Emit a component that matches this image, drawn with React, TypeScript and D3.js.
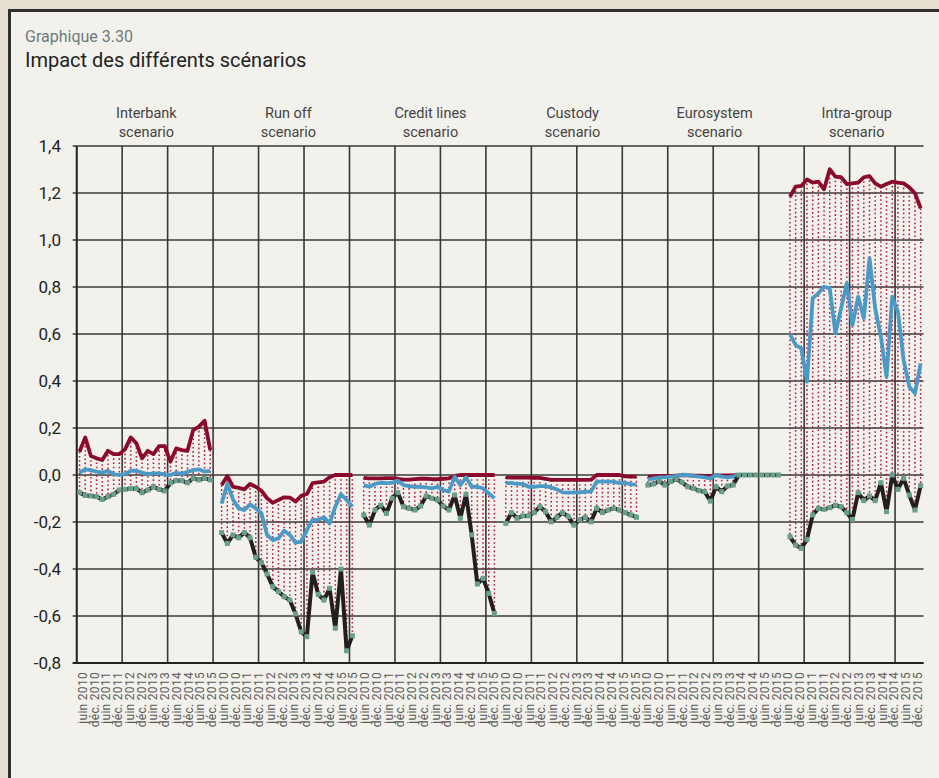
import React, { useEffect } from "react";
import * as d3 from "d3";

// scénarios (un panneau chacun)
const scenarios = ["Interbank", "Run off", "Credit lines", "Custody", "Eurosystem", "Intra-group"];
const periodLabels = [
  "juin 2010", "déc. 2010", "juin 2011", "déc. 2011", "juin 2012", "déc. 2012",
  "juin 2013", "déc. 2013", "juin 2014", "déc. 2014", "juin 2015", "déc. 2015",
];

// série haute (rouge)
const upperSeries: number[][] = [
  [0.099, 0.16, 0.081, 0.071, 0.064, 0.103, 0.089, 0.089, 0.109, 0.16, 0.135, 0.071, 0.103, 0.089, 0.123, 0.123, 0.057, 0.113, 0.106, 0.103, 0.191, 0.206, 0.231, 0.106],
  [-0.043, -0.004, -0.05, -0.055, -0.061, -0.038, -0.05, -0.067, -0.099, -0.118, -0.106, -0.095, -0.096, -0.113, -0.089, -0.081, -0.035, -0.031, -0.028, -0.01, 0, 0, 0, 0],
  [-0.012, -0.014, -0.014, -0.014, -0.013, -0.013, -0.016, -0.02, -0.02, -0.018, -0.016, -0.016, -0.018, -0.018, -0.016, -0.014, -0.004, 0, 0, 0, 0, 0, 0, 0],
  [-0.01, -0.011, -0.011, -0.011, -0.011, -0.012, -0.012, -0.016, -0.021, -0.021, -0.021, -0.021, -0.021, -0.021, -0.021, -0.02, 0, 0, 0, 0, 0, -0.006, -0.007, -0.007],
  [-0.008, -0.006, -0.004, -0.004, -0.004, -0.003, -0.002, -0.002, -0.003, -0.003, -0.004, -0.004, -0.002, -0.002, -0.002, -0.002, 0, 0, 0, 0, 0, 0, 0, 0],
  [1.184, 1.227, 1.23, 1.258, 1.244, 1.248, 1.216, 1.301, 1.27, 1.267, 1.238, 1.241, 1.244, 1.267, 1.272, 1.241, 1.227, 1.238, 1.248, 1.244, 1.241, 1.224, 1.199, 1.135],
];

// série médiane (bleu)
const middleSeries: number[][] = [
  [0.01, 0.024, 0.021, 0.014, 0.01, 0.018, 0.004, 0, 0.004, 0.018, 0.018, 0.01, 0.004, 0.007, 0.007, 0.003, 0, 0.01, 0.004, 0.014, 0.021, 0.024, 0.014, 0.018],
  [-0.121, -0.038, -0.104, -0.142, -0.149, -0.125, -0.142, -0.163, -0.255, -0.277, -0.27, -0.237, -0.255, -0.288, -0.284, -0.234, -0.191, -0.191, -0.18, -0.206, -0.135, -0.082, -0.106, -0.135],
  [-0.043, -0.05, -0.038, -0.033, -0.035, -0.033, -0.024, -0.043, -0.047, -0.05, -0.05, -0.053, -0.057, -0.05, -0.064, -0.071, -0.007, -0.043, -0.01, -0.05, -0.05, -0.057, -0.078, -0.099],
  [-0.033, -0.035, -0.038, -0.038, -0.05, -0.05, -0.047, -0.047, -0.053, -0.061, -0.074, -0.075, -0.074, -0.074, -0.071, -0.071, -0.028, -0.028, -0.028, -0.028, -0.035, -0.033, -0.04, -0.04],
  [-0.021, -0.014, -0.01, -0.01, -0.007, -0.004, 0.001, 0, -0.004, -0.007, -0.01, -0.014, 0.001, -0.007, -0.01, -0.007, 0, 0, 0, 0, 0, 0, 0, 0],
  [0.6, 0.553, 0.539, 0.397, 0.752, 0.773, 0.801, 0.794, 0.603, 0.709, 0.816, 0.638, 0.759, 0.667, 0.922, 0.709, 0.589, 0.418, 0.759, 0.695, 0.489, 0.376, 0.348, 0.475],
];

// série basse (noir, marqueurs verts)
const lowerSeries: number[][] = [
  [-0.075, -0.087, -0.089, -0.092, -0.104, -0.092, -0.082, -0.064, -0.061, -0.058, -0.058, -0.075, -0.064, -0.05, -0.061, -0.068, -0.033, -0.024, -0.024, -0.033, -0.014, -0.021, -0.014, -0.021],
  [-0.245, -0.291, -0.255, -0.267, -0.245, -0.267, -0.35, -0.373, -0.421, -0.475, -0.496, -0.518, -0.532, -0.591, -0.667, -0.688, -0.414, -0.508, -0.532, -0.482, -0.652, -0.4, -0.748, -0.684],
  [-0.17, -0.213, -0.149, -0.128, -0.163, -0.099, -0.075, -0.135, -0.142, -0.149, -0.132, -0.089, -0.099, -0.106, -0.132, -0.149, -0.085, -0.184, -0.082, -0.255, -0.464, -0.44, -0.504, -0.589],
  [-0.206, -0.16, -0.184, -0.174, -0.174, -0.16, -0.135, -0.156, -0.199, -0.18, -0.16, -0.177, -0.213, -0.191, -0.18, -0.199, -0.142, -0.16, -0.149, -0.142, -0.149, -0.16, -0.17, -0.18],
  [-0.043, -0.038, -0.026, -0.043, -0.028, -0.018, -0.031, -0.05, -0.057, -0.067, -0.071, -0.111, -0.05, -0.071, -0.047, -0.043, 0, 0, 0, 0, 0, 0, 0, 0],
  [-0.262, -0.298, -0.312, -0.274, -0.17, -0.142, -0.146, -0.139, -0.128, -0.135, -0.16, -0.189, -0.075, -0.109, -0.089, -0.109, -0.033, -0.156, 0, -0.061, -0.014, -0.085, -0.149, -0.045],
];

const W = 939;
const H = 778;
const margin = { top: 146, right: 15.5, bottom: 115, left: 76.7 };
const slotsPerPanel = 25; // 24 points + 1 case vide
const totalSlots = slotsPerPanel * scenarios.length - 1;
const gridEvery = 8;

const RED = "#8b0a2c";
const BLUE = "#4b9ac6";
const BLACK = "#231f20";
const GREEN = "#6b9f8d";
const GRID = "#383838";
const FONT = "Roboto, 'DejaVu Sans', sans-serif";

const fmt = (v: number) => v.toFixed(1).replace(".", ",");

export default function App() {
  useEffect(() => {
    document.body.style.margin = "0";
  }, []);

  const x0 = margin.left;
  const x1 = W - margin.right;
  const yTop = margin.top;
  const yBot = H - margin.bottom;

  const x = d3.scaleLinear().domain([0, totalSlots]).range([x0, x1]);
  const y = d3.scaleLinear().domain([-0.8, 1.4]).range([yBot, yTop]);
  const labelKeys = scenarios.flatMap((s) => periodLabels.map((p) => s + "|" + p));
  const xl = d3.scaleBand<string>().domain(labelKeys).range([x0, x1]);

  const px = (p: number, k: number) => x(p * slotsPerPanel + k + 0.5);

  const yTicks = y.ticks(11);
  const gridX = d3.range(0, totalSlots, gridEvery);

  return (
    <svg width={W} height={H} style={{ display: "block", fontFamily: FONT }}>
      <rect x={0} y={0} width={W} height={H} fill="#e6dfd0" />
      <rect x={9.5} y={10.5} width={W + 20} height={H + 20} fill="#f2f1eb" stroke="#2e2e2e" strokeWidth={3} />

      <text x={25} y={41.5} fontSize={16} fill="#6d7b82">Graphique 3.30</text>
      <text x={25} y={67} fontSize={20} fill="#222">Impact des différents scénarios</text>

      {/* titres des panneaux */}
      {scenarios.map((s, p) => (
        <text key={s} x={x(p * slotsPerPanel + 12.25)} textAnchor="middle" fontSize={14.5} fill="#444">
          <tspan x={x(p * slotsPerPanel + 12.25)} y={118}>{s}</tspan>
          <tspan x={x(p * slotsPerPanel + 12.25)} y={136.5}>scenario</tspan>
        </text>
      ))}

      {/* grille */}
      {yTicks.map((t) => (
        <line key={"h" + t} x1={x0 - 4} x2={x1} y1={y(t)} y2={y(t)} stroke={GRID} strokeWidth={1.6} />
      ))}
      {gridX.map((g) => (
        <line key={"v" + g} x1={x(g)} x2={x(g)} y1={yTop} y2={yBot} stroke={GRID} strokeWidth={1.6} />
      ))}
      <line x1={x0} x2={x0} y1={yTop} y2={yBot} stroke="#222" strokeWidth={1.8} />
      <line x1={x0 - 4} x2={x1} y1={yBot} y2={yBot} stroke="#222" strokeWidth={1.8} />

      {yTicks.map((t) => (
        <text key={"yl" + t} x={61} y={y(t)} dy="0.35em" textAnchor="end" fontSize={17} fill="#222">
          {fmt(t)}
        </text>
      ))}

      {labelKeys.map((key) => {
        const lx = (xl(key) as number) + xl.bandwidth() / 2;
        const ly = yBot + 9;
        return (
          <text key={key} x={lx} y={ly} transform={`rotate(-90, ${lx}, ${ly})`} textAnchor="end"
            dy="0.35em" fontSize={12} letterSpacing={0.3} fill="#5a5a5a">
            {key.split("|")[1]}
          </text>
        );
      })}

      {/* lignes haut-bas pointillées */}
      {scenarios.map((s, p) => (
        <g key={"drop" + s}>
          {upperSeries[p].map((u, k) => {
            const l = lowerSeries[p][k];
            if (Math.abs(u - l) < 1e-6) return null;
            return (
              <line key={k} x1={px(p, k)} x2={px(p, k)} y1={y(u)} y2={y(l)}
                stroke="#b3163f" strokeWidth={1.5} strokeDasharray="1.6,2.6" />
            );
          })}
        </g>
      ))}

      {scenarios.map((s, p) => {
        const line = d3.line<number>().x((_, k) => px(p, k)).y((d) => y(d));
        return (
          <g key={"series" + s}>
            <path d={line(upperSeries[p]) || ""} fill="none" stroke={RED} strokeWidth={3.8} strokeLinejoin="round" />
            <path d={line(middleSeries[p]) || ""} fill="none" stroke={BLUE} strokeWidth={3.8} strokeLinejoin="round" />
            <path d={line(lowerSeries[p]) || ""} fill="none" stroke={BLACK} strokeWidth={4} strokeLinejoin="round" />
            {lowerSeries[p].map((d, k) => (
              <rect key={k} x={px(p, k) - 2.5} y={y(d) - 2.5} width={5} height={5} fill={GREEN} />
            ))}
          </g>
        );
      })}
    </svg>
  );
}
